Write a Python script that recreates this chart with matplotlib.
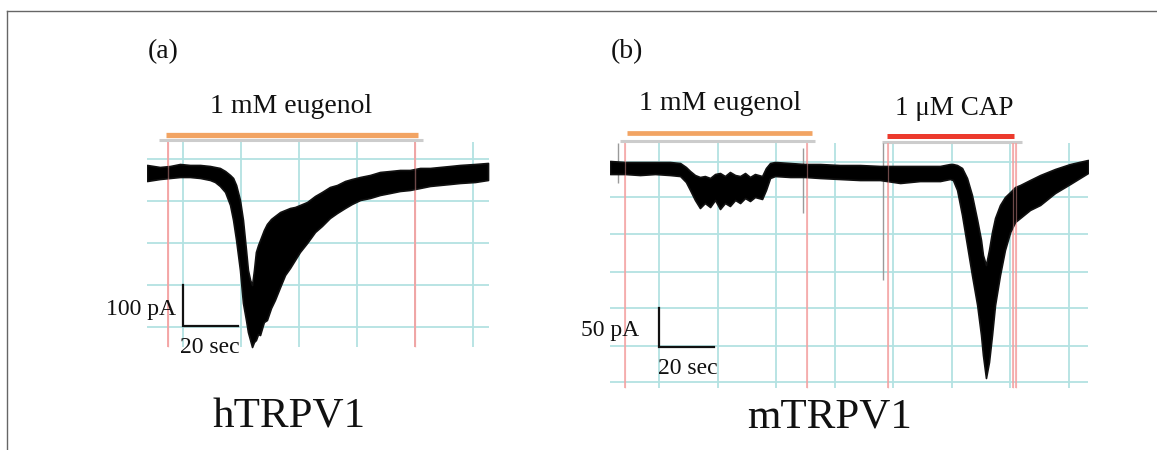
import matplotlib
matplotlib.use('Agg')
import matplotlib.pyplot as plt
from matplotlib.lines import Line2D

W, H = 1157, 450

# ---------------- Panel (a): hTRPV1, 1 mM eugenol ----------------
# time (s) and current envelope (pA) of the noisy trace
a_t = [0.0, 4.7, 8.4, 12.0, 15.6, 19.3, 22.9, 24.7, 26.5, 28.4, 30.2, 31.3, 32.4,
       33.8, 34.9, 36.0, 36.7, 37.5, 38.2, 38.9, 39.6, 40.4, 41.1, 42.5, 43.6,
       45.1, 46.5, 48.4, 50.2, 52.0, 53.8, 55.6, 58.2, 61.1, 63.6, 66.5, 69.1,
       72.0, 74.5, 77.5, 81.1, 84.7, 88.4, 92.0, 95.6, 99.3, 102.9, 106.5, 110.2,
       113.8, 119.3, 124.0]
a_upper = [17.1, 12.2, 14.6, 19.5, 17.1, 17.1, 14.6, 12.2, 9.8, 2.4, -7.3, -14.6,
           -31.7, -68.3, -117.1, -190.2, -239.0, -263.4, -275.6, -239.0, -195.1,
           -178.0, -165.9, -141.5, -126.8, -114.6, -107.3, -97.6, -92.7, -87.8,
           -85.4, -80.5, -73.2, -58.5, -48.8, -36.6, -31.7, -22.0, -17.1, -12.2,
           -7.3, 0.0, 2.4, 4.9, 4.9, 9.8, 9.8, 12.2, 14.6, 17.1, 19.5, 22.0]
a_lower = [-22.0, -17.1, -14.6, -12.2, -12.2, -14.6, -19.5, -24.4, -34.1, -48.8,
           -80.5, -117.1, -165.9, -239.0, -319.5, -361.0, -390.2, -409.8, -426.8,
           -414.6, -409.8, -395.1, -397.6, -365.9, -361.0, -331.7, -312.2, -280.5,
           -251.2, -234.1, -214.6, -195.1, -173.2, -146.3, -131.7, -112.2, -100.0,
           -87.8, -78.0, -68.3, -63.4, -56.1, -51.2, -46.3, -43.9, -39.0, -34.1,
           -31.7, -29.3, -26.8, -24.4, -19.5]
a_grid_y = [32, -70, -173, -275, -378]            # pA
a_grid_x = [13.1, 34.2, 55.3, 76.4, 97.5, 118.6]  # s
a_red_x = [7.6, 97.5]
a_bar = (6.9, 98.5)          # eugenol application (s)
a_scale_pA = 100
a_scale_s = 20

# ---------------- Panel (b): mTRPV1, eugenol then capsaicin ----------------
b_t = [0.0, 5.5, 10.9, 16.4, 21.8, 25.5, 27.6, 29.1, 30.9, 32.7, 34.5, 36.4, 38.2,
       40.0, 41.8, 43.6, 45.5, 47.3, 49.1, 50.9, 52.7, 55.3, 56.7, 58.2, 60.0,
       65.5, 70.9, 76.4, 83.6, 90.9, 98.2, 105.5, 112.7, 120.0, 123.6, 124.7,
       126.2, 128.0, 129.8, 131.6, 133.5, 134.9, 135.6, 136.7, 137.8, 138.9,
       140.0, 141.8, 143.6, 145.5, 147.3, 149.1, 152.7, 156.4, 161.8, 167.3, 173.8]
b_upper = [9.0, 7.7, 7.7, 7.7, 7.7, 6.4, 1.3, -3.8, -9.0, -11.5, -10.3, -12.8, -7.7,
           -6.4, -10.3, -5.1, -9.0, -10.3, -6.4, -11.5, -7.7, -10.3, 0.0, 6.4, 7.7,
           6.4, 5.1, 5.1, 3.8, 3.8, 2.6, 2.6, 2.6, 2.6, 5.1, 5.1, 3.8, 0.0, -12.8,
           -34.6, -66.7, -92.3, -111.5, -124.4, -105.1, -82.1, -64.1, -47.4, -37.2,
           -30.8, -24.4, -21.8, -15.4, -9.0, -1.3, 5.1, 10.3]
b_lower = [-7.7, -7.7, -9.0, -7.7, -9.0, -10.3, -17.9, -28.2, -41.0, -51.3, -44.9,
           -50.0, -41.0, -52.6, -44.9, -48.7, -41.0, -44.9, -38.5, -42.3, -37.2,
           -39.7, -28.2, -12.8, -10.3, -11.5, -11.5, -12.8, -14.1, -15.4, -15.4,
           -19.2, -16.7, -16.7, -14.1, -15.4, -28.2, -60.3, -98.7, -137.2, -175.6,
           -214.1, -239.7, -269.2, -248.7, -214.1, -175.6, -137.2, -105.1, -82.1,
           -69.2, -64.1, -53.8, -47.4, -32.1, -20.5, -6.4]
b_grid_y = [7.7, -37, -85, -133, -179, -228, -274]
b_grid_x = [17.8, 39.1, 60.4, 81.7, 103.0, 124.3, 145.6, 166.9]
b_red_x = [5.5, 71.6, 101.1, 146.6, 147.8]
b_gray = [(2.9, 32, -19), (70.2, 25.6, -57.7), (99.3, 32.1, -143.6)]
b_bar_eug = (6.2, 73.5)
b_bar_cap = (100.7, 146.9)
b_scale_pA = 50
b_scale_s = 20

SERIF = ['Liberation Serif', 'DejaVu Serif']
CYAN = '#b3e2e2'
PINK = '#f4a2a2'
ORANGE = '#f2a463'
RED = '#ec3a2d'

fig = plt.figure(figsize=(W / 100, H / 100), dpi=100)


def fx(px):
    return px / W


def fy(py):
    return 1 - py / H


def ftext(px, py, s, size, ha='left', va='baseline'):
    fig.text(fx(px), fy(py), s, fontsize=size, ha=ha, va=va, family=SERIF,
             color='#111111')


# border (top and left)
fig.add_artist(Line2D([fx(7), 1], [fy(11), fy(11)], color='#666666', lw=1.0,
                      transform=fig.transFigure))
fig.add_artist(Line2D([fx(7), fx(7)], [fy(11), 0], color='#666666', lw=1.0,
                      transform=fig.transFigure))

# ---------------- axes (a) ----------------
axa = fig.add_axes([fx(147), fy(350), fx(489) - fx(147), fy(130) - fy(350)])
axa.set_xlim(0, 124.36)
axa.set_ylim(-434.1, 102.4)
axa.axis('off')
axa.hlines(a_grid_y, 0, 124.36, color=CYAN, lw=1.3, zorder=1)
axa.vlines(a_grid_x, -426.8, 73.2, color=CYAN, lw=1.3, zorder=1)
axa.vlines(a_red_x, -426.8, 73.2, color=PINK, lw=1.3, zorder=1.5)
axa.fill_between(a_t, a_lower, a_upper, facecolor='black', edgecolor='#111111',
                 lw=1.2, zorder=2)
axa.vlines(a_red_x, -426.8, 73.2, color=PINK, lw=1.0, alpha=0.45, zorder=3)
# application bar with shadow
axa.hlines([78], a_bar[0] - 2.5, a_bar[1] + 1.8, color='#cccccc', lw=2.2, zorder=1)
axa.hlines([89], a_bar[0], a_bar[1], color=ORANGE, lw=3.8, zorder=3)
# scale bar
sx0, sy0 = 13.1, -375.6
axa.plot([sx0, sx0, sx0 + a_scale_s], [sy0 + a_scale_pA, sy0, sy0],
         color='#111111', lw=1.6, solid_joinstyle='miter', zorder=4, clip_on=False)

# ---------------- axes (b) ----------------
axb = fig.add_axes([fx(610), fy(395), fx(1088) - fx(610), fy(128) - fy(395)])
axb.set_xlim(0, 173.8)
axb.set_ylim(-291.0, 51.3)
axb.axis('off')
axb.hlines(b_grid_y, 0, 173.8, color=CYAN, lw=1.3, zorder=1)
axb.vlines(b_grid_x, -282.1, 32.1, color=CYAN, lw=1.3, zorder=1)
axb.vlines(b_red_x, -282.1, 32.1, color=PINK, lw=1.1, zorder=1.5)
for gx, gtop, gbot in b_gray:
    axb.vlines([gx], gbot, gtop, color='#9a9a9a', lw=1.0, zorder=1.6)
axb.fill_between(b_t, b_lower, b_upper, facecolor='black', edgecolor='#111111',
                 lw=1.2, zorder=2)
axb.vlines(b_red_x, -282.1, 32.1, color=PINK, lw=0.9, alpha=0.45, zorder=3)
axb.hlines([35.0], b_bar_eug[0] - 2.5, b_bar_eug[1] + 1.0, color='#cccccc', lw=2.2, zorder=1)
axb.hlines([33.0], b_bar_cap[0] - 1.8, b_bar_cap[1] + 2.9, color='#cccccc', lw=2.2, zorder=1)
axb.hlines([44.9], b_bar_eug[0], b_bar_eug[1], color=ORANGE, lw=3.4, zorder=3)
axb.hlines([41.0], b_bar_cap[0], b_bar_cap[1], color=RED, lw=3.6, zorder=3)
sx0, sy0 = 17.8, -229.5
axb.plot([sx0, sx0, sx0 + b_scale_s], [sy0 + b_scale_pA, sy0, sy0],
         color='#111111', lw=1.6, solid_joinstyle='miter', zorder=4, clip_on=False)

# ---------------- text ----------------
ftext(148, 58, '(a)', 20)
ftext(611, 58, '(b)', 20)
ftext(291, 113, '1 mM eugenol', 20, ha='center')
ftext(720, 110, '1 mM eugenol', 20, ha='center')
ftext(954, 115, '1 \u03bcM CAP', 19.5, ha='center')
ftext(176, 315, f'{a_scale_pA} pA', 17, ha='right')
ftext(180, 353, f'{a_scale_s} sec', 17)
ftext(639, 336, f'{b_scale_pA} pA', 17, ha='right')
ftext(658, 374, f'{b_scale_s} sec', 17)
ftext(289, 427, 'hTRPV1', 31, ha='center')
ftext(830, 427, 'mTRPV1', 31, ha='center')

fig.savefig('out.png', dpi=100)
